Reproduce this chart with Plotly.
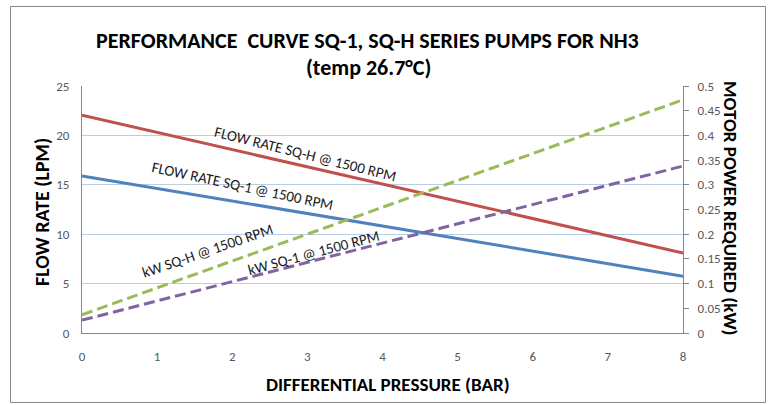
import plotly.graph_objects as go

pressure = [0, 8]
flow_sqh = [22.05, 8.1]
flow_sq1 = [15.9, 5.75]
kw_sqh = [0.037, 0.472]
kw_sq1 = [0.026, 0.338]

x_ticks = [0, 1, 2, 3, 4, 5, 6, 7, 8]
left_ticks = [0, 5, 10, 15, 20, 25]
right_ticks = [0, 0.05, 0.1, 0.15, 0.2, 0.25, 0.3, 0.35, 0.4, 0.45, 0.5]
right_labels = ["0", "0.05", "0.1", "0.15", "0.2", "0.25", "0.3", "0.35", "0.4", "0.45", "0.5"]

W, H = 772, 405
L, R, T, B = 82, 89, 86, 72
FONT = "Carlito, 'Liberation Sans Narrow', 'Open Sans', Roboto, sans-serif"
TICKC = "#595959"

fig = go.Figure()
fig.add_trace(go.Scatter(x=pressure, y=flow_sqh, mode="lines", line=dict(color="#C0504D", width=3), name="FLOW RATE SQ-H"))
fig.add_trace(go.Scatter(x=pressure, y=flow_sq1, mode="lines", line=dict(color="#4F81BD", width=3), name="FLOW RATE SQ-1"))
fig.add_trace(go.Scatter(x=pressure, y=kw_sqh, mode="lines", yaxis="y2", line=dict(color="#9BBB59", width=3, dash="11px,5px"), name="kW SQ-H"))
fig.add_trace(go.Scatter(x=pressure, y=kw_sq1, mode="lines", yaxis="y2", line=dict(color="#8064A2", width=3, dash="11px,5px"), name="kW SQ-1"))

def px(xp):
    return (xp - L) / (W - L - R)

def py(yp):
    return (H - B - yp) / (H - T - B)

anns = [
    dict(text="FLOW RATE SQ-H @ 1500 RPM", x=px(305), y=py(154), angle=14),
    dict(text="FLOW RATE SQ-1 @ 1500 RPM", x=px(242), y=py(186), angle=12),
    dict(text="kW SQ-H @ 1500 RPM", x=px(207), y=py(251), angle=-19),
    dict(text="kW SQ-1 @ 1500 RPM", x=px(313), y=py(253), angle=-15),
]
annotations = []
for a in anns:
    annotations.append(dict(text=a["text"], x=a["x"], y=a["y"], xref="paper", yref="paper",
                            showarrow=False, textangle=a["angle"], xanchor="center", yanchor="middle",
                            font=dict(family=FONT, size=15, color="#1a1a1a")))

# title
annotations.append(dict(text="<b>PERFORMANCE  CURVE SQ-1, SQ-H SERIES PUMPS FOR NH3</b>", x=px(367), y=py(40),
                        xref="paper", yref="paper", showarrow=False, xanchor="center", yanchor="middle",
                        font=dict(family=FONT, size=22, color="black")))
annotations.append(dict(text="<b>(temp 26.7°C)</b>", x=px(368), y=py(67),
                        xref="paper", yref="paper", showarrow=False, xanchor="center", yanchor="middle",
                        font=dict(family=FONT, size=22, color="black")))
# axis titles
annotations.append(dict(text="<b>FLOW RATE (LPM)</b>", x=px(42), y=py(212), xref="paper", yref="paper",
                        showarrow=False, textangle=-90, xanchor="center", yanchor="middle",
                        font=dict(family=FONT, size=20, color="black")))
annotations.append(dict(text="<b>MOTOR POWER REQUIRED (kW)</b>", x=px(731), y=py(208), xref="paper", yref="paper",
                        showarrow=False, textangle=90, xanchor="center", yanchor="middle",
                        font=dict(family=FONT, size=19, color="black")))
annotations.append(dict(text="<b>DIFFERENTIAL PRESSURE (BAR)</b>", x=px(388), y=py(384), xref="paper", yref="paper",
                        showarrow=False, xanchor="center", yanchor="middle",
                        font=dict(family=FONT, size=19, color="black")))

shapes = [dict(type="rect", xref="paper", yref="paper",
               x0=px(10.5), x1=px(765.5), y0=py(402.5), y1=py(6.5),
               line=dict(color="#868686", width=1), fillcolor="rgba(0,0,0,0)", layer="below")]

fig.update_layout(
    width=W, height=H,
    margin=dict(l=L, r=R, t=T, b=B),
    paper_bgcolor="white", plot_bgcolor="white",
    showlegend=False,
    font=dict(family=FONT, size=13, color=TICKC),
    xaxis=dict(range=[0, 8], tickvals=x_ticks, showgrid=False, zeroline=False,
               showline=True, linecolor="#868686", linewidth=1,
               ticks="outside", ticklen=11, tickcolor="rgba(0,0,0,0)",
               tickfont=dict(family=FONT, size=13, color=TICKC)),
    yaxis=dict(range=[0, 25], tickvals=left_ticks, showgrid=True, gridcolor="#B9CDE5", gridwidth=1,
               zeroline=False, showline=True, linecolor="#868686", linewidth=1,
               ticks="outside", ticklen=9, tickcolor="rgba(0,0,0,0)",
               tickfont=dict(family=FONT, size=13, color=TICKC)),
    yaxis2=dict(range=[0, 0.5], tickvals=right_ticks, ticktext=right_labels, overlaying="y", side="right",
                showgrid=False, zeroline=False, showline=True, linecolor="#868686", linewidth=1,
                ticks="outside", ticklen=5, tickcolor="#868686", ticklabelstandoff=6,
                tickfont=dict(family=FONT, size=13, color=TICKC)),
    annotations=annotations,
    shapes=shapes,
)

fig.write_html("out.html", config={"displayModeBar": False},
               post_script="document.body.style.margin='0';document.body.style.padding='0';")
